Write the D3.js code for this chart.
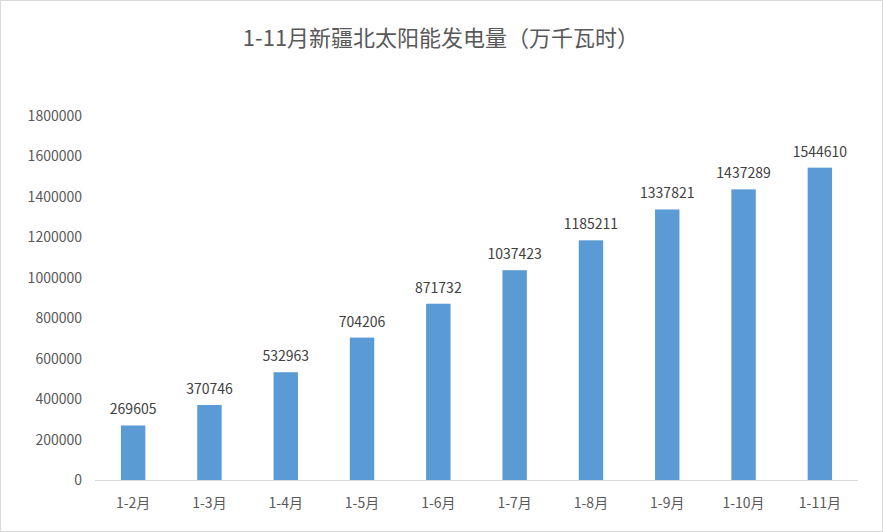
<!DOCTYPE html>
<html lang="zh">
<head>
<meta charset="UTF-8">
<script src="https://cdnjs.cloudflare.com/ajax/libs/d3/7.8.5/d3.min.js"></script>
<style>
  body { margin: 0; background: #fff; }
  text { font-family: "Noto Sans CJK SC", "Open Sans", sans-serif; fill: #404040; }
</style>
</head>
<body>
<svg id="chart" width="883" height="532"></svg>
<script>
const categories = ["1-2月", "1-3月", "1-4月", "1-5月", "1-6月", "1-7月", "1-8月", "1-9月", "1-10月", "1-11月"];
const values = [269605, 370746, 532963, 704206, 871732, 1037423, 1185211, 1337821, 1437289, 1544610];
const yTicks = [0, 200000, 400000, 600000, 800000, 1000000, 1200000, 1400000, 1600000, 1800000];

const svg = d3.select("#chart");
svg.append("rect").attr("x", 0.5).attr("y", 0.5).attr("width", 882).attr("height", 531)
  .attr("fill", "#fff").attr("stroke", "#d9d9d9");

svg.append("text").attr("x", 441).attr("y", 46).attr("text-anchor", "middle")
  .style("font-size", "22px").style("fill", "#595959").text("1-11月新疆北太阳能发电量（万千瓦时）");

const x = d3.scaleBand().domain(categories).range([95, 858]).paddingInner(0.68).paddingOuter(0.34);
const y = d3.scaleLinear().domain([0, 1800000]).range([480, 116]);

svg.append("g").selectAll("text").data(yTicks).join("text")
  .attr("x", 82).attr("y", d => y(d) + 5).attr("text-anchor", "end")
  .style("font-size", "14px").style("fill", "#595959").text(d => d);

svg.append("g").selectAll("rect").data(values).join("rect")
  .attr("x", (d, i) => x(categories[i])).attr("width", x.bandwidth())
  .attr("y", d => y(d)).attr("height", d => y(0) - y(d)).attr("fill", "#5b9bd5");

svg.append("line").attr("x1", 95).attr("x2", 858).attr("y1", y(0) + 0.5).attr("y2", y(0) + 0.5)
  .attr("stroke", "#d9d9d9");

svg.append("g").selectAll("text").data(values).join("text")
  .attr("x", (d, i) => x(categories[i]) + x.bandwidth() / 2).attr("y", d => y(d) - 11)
  .attr("text-anchor", "middle").style("font-size", "14px").text(d => d);

svg.append("g").selectAll("text").data(categories).join("text")
  .attr("x", d => x(d) + x.bandwidth() / 2).attr("y", 508)
  .attr("text-anchor", "middle").style("font-size", "14px").style("fill", "#595959").text(d => d);
</script>
</body>
</html>
